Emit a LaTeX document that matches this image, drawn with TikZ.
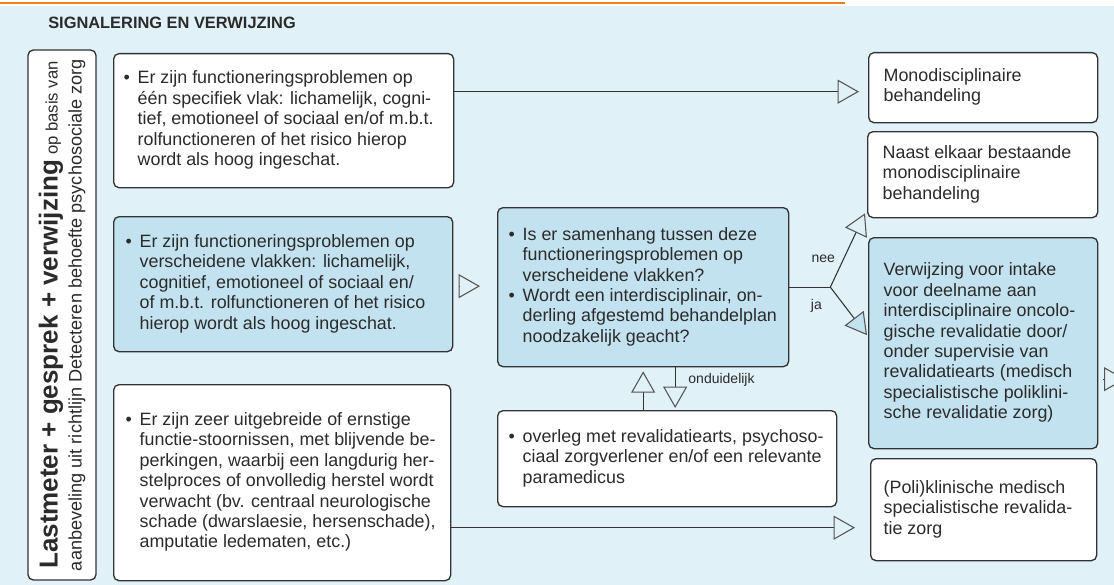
\documentclass[tikz,border=0pt]{standalone}
\usepackage{fontspec}
\setmainfont{Liberation Sans}
\usetikzlibrary{arrows.meta,calc}

\definecolor{bgblue}{HTML}{E0F1F8}
\definecolor{boxblue}{HTML}{C3E2EF}
\definecolor{lineorange}{HTML}{F07F1E}
\definecolor{ink}{HTML}{2B2B2B}
\definecolor{edge}{HTML}{333333}
\definecolor{tipgray}{HTML}{555555}

\newcommand{\bw}{10.5pt}
\newcommand{\bulmark}{\makebox[\bw][l]{\textbullet}}
\newcommand{\boxlines}[2]{\makebox[#1][l]{\begin{tabular}{@{}l@{}l@{}}#2\end{tabular}}}

\tikzset{
    box/.style={draw=edge, line width=1pt, rounded corners=4pt, fill=white,
        anchor=north west, inner ysep=2pt, text=ink,
        font=\fontsize{13.4}{15.3}\selectfont},
    bluebox/.style={box, fill=boxblue},
    flow/.style={draw=edge, line width=0.8pt,
        -{Triangle[open, length=16pt, width=18pt, color=tipgray]}},
    flowja/.style={draw=edge, line width=0.8pt,
        -{Triangle[length=16pt, width=18pt, color=tipgray, fill=boxblue]}},
    lbl/.style={inner sep=0pt, text=ink, font=\fontsize{10.5}{12}\selectfont}
}

\begin{document}
\begin{tikzpicture}[x=0.75pt, y=-0.75pt]
    \useasboundingbox (0,0) rectangle (1114,585);
    \fill[bgblue] (0,6) rectangle (1114,585);
    \draw[lineorange, line width=1.5pt] (0,3) -- (845,3);

    \node[anchor=west, inner sep=0pt, text=ink, font=\fontsize{12.3}{14}\selectfont\bfseries]
        (title) at (48,23) {SIGNALERING EN VERWIJZING};

    % left column
    \node[box, anchor=center, rotate=90, align=center, inner sep=1pt,
        minimum width=397.5pt, minimum height=51pt, font=\fontsize{13.6}{16}\selectfont]
        (last) at (62,315)
        {{\fontsize{19.5}{22}\selectfont\bfseries Lastmeter + gesprek + verwijzing}
         {\fontsize{12.5}{15}\selectfont op basis van}\\[2pt]
         aanbeveling uit richtlijn Detecteren behoefte psychosociale zorg};

    \node[box, inner xsep=7.5pt, minimum height=100.5pt] (b1) at (113,53)
        {\boxlines{240pt}{\bulmark & Er zijn functioneringsproblemen op\\
            & één specifiek vlak: lichamelijk, cogni-\\
            & tief, emotioneel of sociaal en/of m.b.t.\\
            & rolfunctioneren of het risico hierop\\
            & wordt als hoog ingeschat.}};
    \node[bluebox, inner xsep=9pt, minimum height=101.25pt] (b2) at (113,216)
        {\boxlines{236.25pt}{\bulmark & Er zijn functioneringsproblemen op\\
            & verscheidene vlakken: lichamelijk,\\
            & cognitief, emotioneel of sociaal en/\\
            & of m.b.t. rolfunctioneren of het risico\\
            & hierop wordt als hoog ingeschat.}};
    \node[box, inner xsep=9pt, minimum height=147pt] (b3) at (113,384)
        {\boxlines{234.75pt}{\bulmark & Er zijn zeer uitgebreide of ernstige\\
            & functie-stoornissen, met blijvende be-\\
            & perkingen, waarbij een langdurig her-\\
            & stelproces of onvolledig herstel wordt\\
            & verwacht (bv. centraal neurologische\\
            & schade (dwarslaesie, hersenschade),\\
            & amputatie ledematen, etc.)}};

    % middle column
    \node[bluebox, inner xsep=8.25pt, minimum height=119.25pt] (mid) at (497,207)
        {\boxlines{201.75pt}{\bulmark & Is er samenhang tussen deze\\
            & functioneringsproblemen op\\
            & verscheidene vlakken?\\
            \bulmark & Wordt een interdisciplinair, on-\\
            & derling afgestemd behandelplan\\
            & noodzakelijk geacht?}};
    \node[box, inner xsep=8.25pt, minimum height=72pt] (ov) at (497,410)
        {\boxlines{237.75pt}{\bulmark & overleg met revalidatiearts, psychoso-\\
            & ciaal zorgverlener en/of een relevante\\
            & paramedicus}};

    % right column
    \node[box, inner xsep=11.25pt, minimum height=52.5pt] (mono) at (868,52)
        {\boxlines{149.25pt}{& Monodisciplinaire\\ & behandeling}};
    \node[box, inner xsep=11.25pt, minimum height=64.5pt] (naast) at (867,131)
        {\boxlines{150pt}{& Naast elkaar bestaande\\ & monodisciplinaire\\ & behandeling}};
    \node[bluebox, inner xsep=11.25pt, minimum height=158.25pt] (verw) at (868,237)
        {\boxlines{149.25pt}{& Verwijzing voor intake\\
            & voor deelname aan\\
            & interdisciplinaire oncolo-\\
            & gische revalidatie door/\\
            & onder supervisie van\\
            & revalidatiearts (medisch\\
            & specialistische poliklini-\\
            & sche revalidatie zorg)}};
    \node[box, inner xsep=9.75pt, minimum height=76.5pt] (poli) at (870,458)
        {\boxlines{150pt}{& (Poli)klinische medisch\\
            & specialistische revalida-\\
            & tie zorg}};

    % connectors
    \coordinate (monoin) at ($(mono.west)+(-9,4)$);
    \draw[flow] (b1.east |- monoin) -- (monoin);

    \coordinate (midin) at ($(mid.west)+(-17,-1)$);
    \draw[flow] ($(b2.east |- midin)+(6,0)$) -- (midin);

    \coordinate (fork) at ($(mid.east)+(41,0)$);
    \coordinate (naastin) at ($(naast.south west)+(-2,-5)$);
    \coordinate (verwin) at ($(verw.west)+(-1,-8)$);
    \draw[draw=edge, line width=0.8pt] (mid.east) -- (fork);
    \draw[flow] (fork) -- (naastin);
    \draw[flowja] (fork) -- (verwin);
    \node[lbl] (nee) at ($(fork)+(-7,-28)$) {nee};
    \node[lbl] (ja) at ($(fork)+(-14,19)$) {ja};

    \coordinate (upin) at ($(mid.south)+(0,4)$);
    \draw[flow] (ov.north -| upin) -- (upin);
    \coordinate (dnout) at ($(mid.south)+(32,0)$);
    \coordinate (dnin) at ($(ov.north -| dnout)+(0,-2)$);
    \draw[flow] (dnout) -- (dnin);
    \node[lbl, anchor=west] (ond) at ($(dnout)+(13,13)$) {onduidelijk};

    \coordinate (poliin) at ($(poli.west)+(-15,18)$);
    \draw[flow] (b3.east |- poliin) -- (poliin);

    \coordinate (exit) at ($(verw.east)+(27,36)$);
    \draw[flow] ($(verw.east)+(5,36)$) -- (exit);
\end{tikzpicture}
\end{document}
